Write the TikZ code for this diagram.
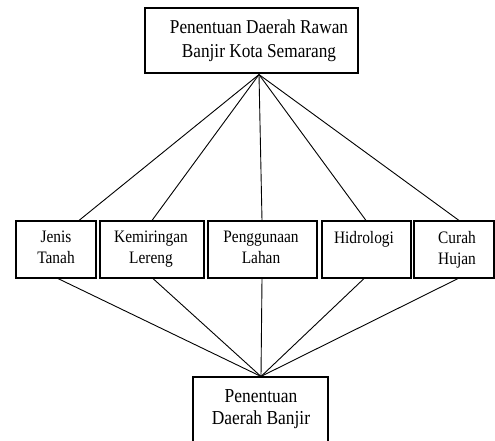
\documentclass[tikz,border=0pt]{standalone}
\usepackage{fontspec}
\setmainfont[FakeStretch=0.88]{Liberation Serif}
\begin{document}
\begin{tikzpicture}[x=1pt,y=-1pt,
  box/.style={draw, line width=1.1pt, inner sep=0pt},
  conn/.style={line width=0.9pt},
  midtext/.style={font=\fontsize{17.5}{21}\selectfont, align=center, inner sep=0pt, anchor=north},
  toptext/.style={font=\fontsize{19.6}{24}\selectfont, align=center, inner sep=0pt, anchor=north},
  bottext/.style={font=\fontsize{19.8}{22}\selectfont, align=center, inner sep=0pt, anchor=north}]
\clip (0,0) rectangle (495,441);
% boxes
\node[box, minimum width=213pt, minimum height=65pt] (top) at (251.5,40.5) {};
\node[box, minimum width=80pt, minimum height=57pt] (m1) at (56,249.5) {};
\node[box, minimum width=104pt, minimum height=57pt] (m2) at (152,249.5) {};
\node[box, minimum width=109pt, minimum height=57pt] (m3) at (262.5,249.5) {};
\node[box, minimum width=89pt, minimum height=57pt] (m4) at (366.5,249.5) {};
\node[box, minimum width=80pt, minimum height=57pt] (m5) at (454,249.5) {};
\node[box, minimum width=135pt, minimum height=83pt] (bot) at (260.5,418.5) {};
% texts
\node[toptext] (t0) at (259,19.8) {Penentuan Daerah Rawan\\Banjir Kota Semarang};
\node[midtext] (t1) at (56,231.2) {Jenis\\Tanah};
\node[midtext] (t2) at (151,231.2) {Kemiringan\\Lereng};
\node[midtext] (t3) at (261,231.2) {Penggunaan\\Lahan};
\node[midtext] (t4) at (364,231.2) {Hidrologi};
\node[midtext] (t5) at (457,231.2) {Curah\\Hujan};
\node[bottext] (t6) at (261,389.6) {Penentuan\\Daerah Banjir};
% apex points
\coordinate (ta) at ([xshift=7.5pt,yshift=-1pt]top.south);
\coordinate (ba) at ([xshift=0.5pt]bot.north);
% connectors top
\draw[conn] (ta) -- ([xshift=23pt]m1.north);
\draw[conn] (ta) -- ([xshift=0pt]m2.north);
\draw[conn] (ta) -- ([xshift=-0.5pt]m3.north);
\draw[conn] (ta) -- ([xshift=-0.5pt]m4.north);
\draw[conn] (ta) -- ([xshift=5pt]m5.north);
% connectors bottom
\draw[conn] ([xshift=2pt]m1.south) -- (ba);
\draw[conn] ([xshift=1pt]m2.south) -- (ba);
\draw[conn] ([xshift=-0.5pt]m3.south) -- (ba);
\draw[conn] ([xshift=-2.5pt]m4.south) -- (ba);
\draw[conn] ([xshift=4pt]m5.south) -- (ba);
\end{tikzpicture}
\end{document}
